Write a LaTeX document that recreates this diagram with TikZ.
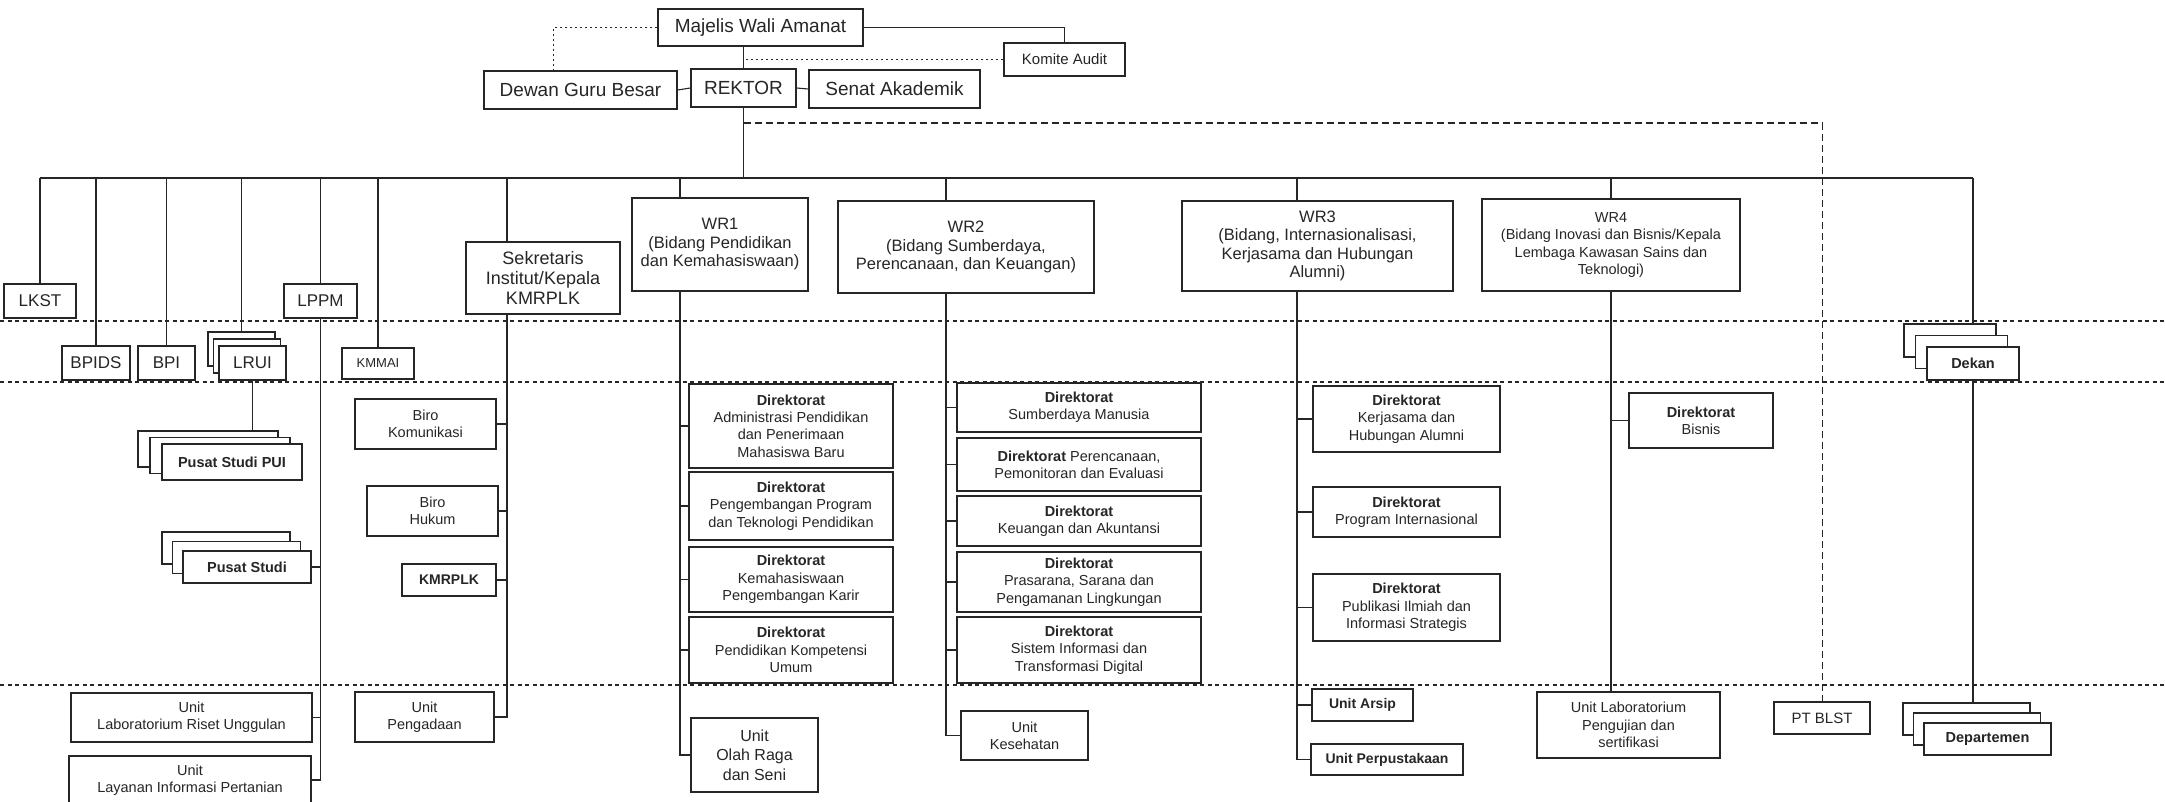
\documentclass[tikz,border=0pt]{standalone}
\usepackage{fontspec}
\setmainfont{Liberation Sans}
\usepackage{tikz}
\usetikzlibrary{calc,positioning}
\definecolor{myink}{RGB}{38,38,38}
\tikzstyle{box}=[draw=myink,text=myink,line width=1.5pt,fill=white,align=center,inner sep=2pt,font=\fontsize{14.5}{17.3}\selectfont]
\tikzstyle{big}=[font=\fontsize{19}{22}\selectfont]
\tikzstyle{wr}=[font=\fontsize{16.5}{18.5}\selectfont]
\tikzstyle{unitname}=[font=\fontsize{17}{20}\selectfont]
\tikzstyle{conn}=[draw=myink,line width=1.1pt]
\tikzstyle{tierline}=[draw=myink,line width=1.6pt,dash pattern=on 4pt off 3.5pt]
\tikzstyle{dots}=[draw=myink,line width=1.5pt,dash pattern=on 2.5pt off 2.5pt]
\tikzstyle{dashes}=[draw=myink,line width=1.3pt,dash pattern=on 7pt off 4pt]
\tikzstyle{thindash}=[draw=myink,line width=0.8pt,dash pattern=on 7pt off 4pt]

\begin{document}
\begin{tikzpicture}[x=1pt,y=-1pt]
\useasboundingbox (0,0) rectangle (2165,801);
\fill[white] (0,0) rectangle (2165,801);
% levels
\draw[tierline] (0,321) -- (2165,321);
\draw[tierline] (0,382) -- (2165,382);
\draw[tierline] (0,685) -- (2165,685);

% top
\draw (760.5, 27.5) node [box, big, minimum width=205pt, minimum height=37pt] (maw) {Majelis Wali Amanat};
\draw (1064.5, 59.5) node [box, font=\fontsize{15}{18}\selectfont, minimum width=121pt, minimum height=33pt] (komite) {Komite Audit};
\draw (580.5, 90) node [box, big, minimum width=193pt, minimum height=38pt] (dgb) {Dewan Guru Besar};
\draw (743.5, 88) node [box, big, minimum width=105pt, minimum height=38pt] (rektor) {REKTOR};
\draw (894.5, 89) node [box, big, minimum width=171pt, minimum height=38pt] (senat) {Senat Akademik};

% first row
\draw (40, 301) node [box, unitname, minimum width=72pt, minimum height=34pt] (lkst) {LKST};
\draw (320.5, 301) node [box, unitname, minimum width=73pt, minimum height=34pt] (lppm) {LPPM};
\draw (543, 278) node [box, font=\fontsize{18}{20}\selectfont, minimum width=154pt, minimum height=72pt] (sekr) {Sekretaris\\Institut/Kepala\\KMRPLK};
\draw (720, 244.5) node [box, wr, minimum width=176pt, minimum height=93pt] (wr1) {WR1\\(Bidang Pendidikan\\dan Kemahasiswaan)};
\draw (966, 247) node [box, wr, minimum width=256pt, minimum height=92pt] (wr2) {WR2\\(Bidang Sumberdaya,\\Perencanaan, dan Keuangan)};
\draw (1317.5, 246) node [box, wr, minimum width=271pt, minimum height=90pt] (wr3) {WR3\\(Bidang, Internasionalisasi,\\Kerjasama dan Hubungan\\Alumni)};
\draw (1611, 245) node [box, minimum width=258pt, minimum height=92pt] (wr4) {WR4\\(Bidang Inovasi dan Bisnis/Kepala\\Lembaga Kawasan Sains dan\\Teknologi)};

% second row
\draw (96, 363) node [box, unitname, minimum width=68pt, minimum height=34pt] (bpids) {BPIDS};
\draw (166.5, 363) node [box, unitname, minimum width=57pt, minimum height=34pt] (bpi) {BPI};
\draw (241.5, 349) node [box, minimum width=67pt, minimum height=34pt] (lrui3) {};
\draw (247, 356) node [box, minimum width=67pt, minimum height=34pt] (lrui2) {};
\draw (252.5, 363) node [box, unitname, minimum width=67pt, minimum height=34pt] (lrui) {LRUI};
\draw (378, 363.5) node [box, font=\fontsize{13}{15}\selectfont, minimum width=72pt, minimum height=31pt] (kmmai) {KMMAI};
\draw (1950, 340.5) node [box, minimum width=92pt, minimum height=33pt] (dekan3) {};
\draw (1961.5, 352) node [box, minimum width=92pt, minimum height=33pt] (dekan2) {};
\draw (1973, 363.5) node [box, minimum width=92pt, minimum height=33pt] (dekan) {\textbf{Dekan}};

% left block
\draw (208, 449) node [box, minimum width=140pt, minimum height=36pt] (pui3) {};
\draw (220, 455.5) node [box, minimum width=140pt, minimum height=36pt] (pui2) {};
\draw (232, 462) node [box, minimum width=140pt, minimum height=36pt] (pui) {\textbf{Pusat Studi PUI}};
\draw (226, 548) node [box, minimum width=128pt, minimum height=32pt] (ps3) {};
\draw (236.5, 557.5) node [box, minimum width=128pt, minimum height=32pt] (ps2) {};
\draw (247, 567) node [box, minimum width=128pt, minimum height=32pt] (ps) {\textbf{Pusat Studi}};
\draw (191.5, 717.5) node [box, minimum width=241pt, minimum height=49pt] (ulru) {Unit\\Laboratorium Riset Unggulan};
\draw (190, 780) node [box, minimum width=242pt, minimum height=48pt] (ulip) {Unit\\Layanan Informasi Pertanian};
\draw (425.5, 424) node [box, minimum width=141pt, minimum height=50pt] (biro1) {Biro\\Komunikasi};
\draw (432.5, 511) node [box, minimum width=131pt, minimum height=50pt] (biro2) {Biro\\Hukum};
\draw (449, 580) node [box, font=\fontsize{14}{17}\selectfont, minimum width=94pt, minimum height=32pt] (kmrplk) {\textbf{KMRPLK}};
\draw (424.5, 717) node [box, minimum width=139pt, minimum height=50pt] (pengadaan) {Unit\\Pengadaan};

% WR1 block
\draw (791, 426) node [box, minimum width=204pt, minimum height=84pt] (d11) {\textbf{Direktorat}\\Administrasi Pendidikan\\dan Penerimaan\\Mahasiswa Baru};
\draw (791, 506) node [box, minimum width=204pt, minimum height=68pt] (d12) {\textbf{Direktorat}\\Pengembangan Program\\dan Teknologi Pendidikan};
\draw (791, 579.5) node [box, minimum width=204pt, minimum height=65pt] (d13) {\textbf{Direktorat}\\Kemahasiswaan\\Pengembangan Karir};
\draw (791, 650) node [box, minimum width=204pt, minimum height=66pt] (d14) {\textbf{Direktorat}\\Pendidikan Kompetensi\\Umum};
\draw (754.5, 755) node [box, font=\fontsize{16}{19.5}\selectfont, minimum width=127pt, minimum height=74pt] (olahraga) {Unit\\Olah Raga\\dan Seni};

% WR2 block
\draw (1079, 407.5) node [box, minimum width=244pt, minimum height=49pt] (d21) {\textbf{Direktorat}\\Sumberdaya Manusia};
\draw (1079, 464.5) node [box, minimum width=244pt, minimum height=53pt] (d22) {\textbf{Direktorat} Perencanaan,\\Pemonitoran dan Evaluasi};
\draw (1079, 521) node [box, minimum width=244pt, minimum height=50pt] (d23) {\textbf{Direktorat}\\Keuangan dan Akuntansi};
\draw (1079, 582) node [box, minimum width=244pt, minimum height=60pt] (d24) {\textbf{Direktorat}\\Prasarana, Sarana dan\\Pengamanan Lingkungan};
\draw (1079, 650) node [box, minimum width=244pt, minimum height=66pt] (d25) {\textbf{Direktorat}\\Sistem Informasi dan\\Transformasi Digital};
\draw (1024.5, 735.5) node [box, minimum width=127pt, minimum height=49pt] (kesehatan) {Unit\\Kesehatan};

% WR3 block
\draw (1406.5, 419) node [box, minimum width=187pt, minimum height=66pt] (d31) {\textbf{Direktorat}\\Kerjasama dan\\Hubungan Alumni};
\draw (1406.5, 512) node [box, minimum width=187pt, minimum height=50pt] (d32) {\textbf{Direktorat}\\Program Internasional};
\draw (1406.5, 607.5) node [box, minimum width=187pt, minimum height=67pt] (d33) {\textbf{Direktorat}\\Publikasi Ilmiah dan\\Informasi Strategis};
\draw (1362.5, 705) node [box, font=\fontsize{14}{17}\selectfont, minimum width=101pt, minimum height=32pt] (arsip) {\textbf{Unit Arsip}};
\draw (1387, 759.5) node [box, font=\fontsize{14}{17}\selectfont, minimum width=152pt, minimum height=31pt] (perpus) {\textbf{Unit Perpustakaan}};

% WR4 block and right
\draw (1701, 420.5) node [box, minimum width=144pt, minimum height=55pt] (bisnis) {\textbf{Direktorat}\\Bisnis};
\draw (1628.5, 725) node [box, minimum width=183pt, minimum height=66pt] (ulab) {Unit Laboratorium\\Pengujian dan\\sertifikasi};
\draw (1822, 718) node [box, font=\fontsize{15}{18}\selectfont, minimum width=96pt, minimum height=32pt] (ptblst) {PT BLST};
\draw (1966.5, 719) node [box, minimum width=127pt, minimum height=32pt] (dept3) {};
\draw (1977, 729) node [box, minimum width=127pt, minimum height=32pt] (dept2) {};
\draw (1987.5, 739) node [box, minimum width=127pt, minimum height=32pt] (dept) {\textbf{Departemen}};

% top links
\coordinate (bus) at (0, 178);
\coordinate (gov) at (0, 123);
\draw[dots] (maw.west) -| ([xshift=-27pt]dgb.north);
\draw[conn] (maw.east) -| (komite.north);
\draw[conn] (maw.south -| rektor.north) -- (rektor.north);
\draw[dots] (komite.west) -- (komite.west -| rektor.north);
\draw[conn] (dgb.east) -- (rektor.west);
\draw[conn] (rektor.east) -- (senat.west);
\draw[conn] (rektor.south) -- (rektor.south |- bus);
\draw[dashes] (rektor.south |- gov) -- (ptblst.north |- gov);
\draw[thindash] (ptblst.north |- gov) -- (ptblst.north);

% bus and drops
\coordinate (sk) at (507, 0);
\coordinate (w1) at (680, 0);
\coordinate (w2) at (946, 0);
\coordinate (w3) at (1297, 0);
\draw[conn] (lkst.north |- bus) -- (dekan.north |- bus);
\draw[conn] (lkst.north) -- (lkst.north |- bus);
\draw[conn] (bpids.north) -- (bpids.north |- bus);
\draw[conn] (bpi.north) -- (bpi.north |- bus);
\draw[conn] (lrui3.north) -- (lrui3.north |- bus);
\draw[conn] (lppm.north) -- (lppm.north |- bus);
\draw[conn] (kmmai.north) -- (kmmai.north |- bus);
\draw[conn] (sk |- bus) -- (sk |- sekr.north);
\draw[conn] (w1 |- bus) -- (w1 |- wr1.north);
\draw[conn] (w2 |- bus) -- (w2 |- wr2.north);
\draw[conn] (w3 |- bus) -- (w3 |- wr3.north);
\draw[conn] (wr4.north) -- (wr4.north |- bus);
\draw[conn] (dekan.north |- bus) -- (dekan.north |- dekan3.north);

% left links
\draw[conn] (lrui.south) -- (lrui.south |- pui3.north);
\draw[conn] (lppm.south) |- (ulip.east);
\draw[conn] (ps.east) -- (ps.east -| lppm.south);
\draw[conn] (ulru.east) -- (ulru.east -| lppm.south);
\draw[conn] (sk |- sekr.south) |- (pengadaan.east);
\draw[conn] (biro1.east) -- (biro1.east -| sk);
\draw[conn] (biro2.east) -- (biro2.east -| sk);
\draw[conn] (kmrplk.east) -- (kmrplk.east -| sk);

% WR links
\draw[conn] (w1 |- wr1.south) |- (olahraga.west);
\draw[conn] (d11.west) -- (d11.west -| w1);
\draw[conn] (d12.west) -- (d12.west -| w1);
\draw[conn] (d13.west) -- (d13.west -| w1);
\draw[conn] (d14.west) -- (d14.west -| w1);
\draw[conn] (w2 |- wr2.south) |- (kesehatan.west);
\draw[conn] (d21.west) -- (d21.west -| w2);
\draw[conn] (d22.west) -- (d22.west -| w2);
\draw[conn] (d23.west) -- (d23.west -| w2);
\draw[conn] (d24.west) -- (d24.west -| w2);
\draw[conn] (d25.west) -- (d25.west -| w2);
\draw[conn] (w3 |- wr3.south) |- (perpus.west);
\draw[conn] (d31.west) -- (d31.west -| w3);
\draw[conn] (d32.west) -- (d32.west -| w3);
\draw[conn] (d33.west) -- (d33.west -| w3);
\draw[conn] (arsip.west) -- (arsip.west -| w3);
\draw[conn] (wr4.south) -- (wr4.south |- ulab.north);
\draw[conn] (bisnis.west) -- (bisnis.west -| wr4.south);
\draw[conn] (dekan.south) -- (dekan.south |- dept3.north);
\end{tikzpicture}
\end{document}
